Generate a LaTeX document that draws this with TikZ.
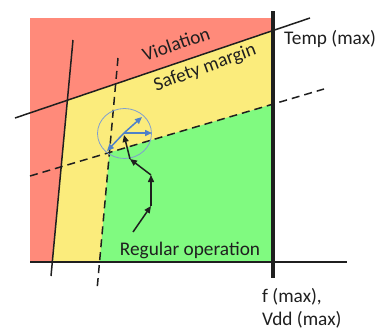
\documentclass[tikz,border=0pt]{standalone}
\usepackage{fontspec}
\setmainfont{Carlito}
\usepackage{tikz}
\usepackage{xcolor}
\usetikzlibrary{arrows.meta,positioning,calc}
\definecolor{viol}{HTML}{FF8A7A}
\definecolor{safe}{HTML}{FBEC7C}
\definecolor{regular}{HTML}{80FA80}
\definecolor{ink}{HTML}{1F1F1F}
\definecolor{knob}{HTML}{4F81C8}
\definecolor{ring}{HTML}{7F9FCF}
\tikzset{
  bound/.style={draw=ink, line width=1.5pt},
  guess/.style={draw=ink, line width=1.5pt, dash pattern=on 8pt off 5pt},
  label/.style={font=\fontsize{19.3}{23}\selectfont, text=ink, inner sep=0pt},
  movearrow/.style={-{Triangle[length=7pt,width=6pt]}, line width=1.5pt, draw=ink},
  tunearrow/.style={-{Triangle[length=7pt,width=6pt]}, line width=1.5pt, draw=knob}
}
\begin{document}
\begin{tikzpicture}[x=1pt,y=-1pt]
        \useasboundingbox (0,0) rectangle (382,327);

        % end points of the limit lines
        \coordinate (vl) at (15,118);   \coordinate (vr) at (310,18);
        \coordinate (ll-t) at (73,40);  \coordinate (ll-b) at (51,276);
        \coordinate (dh-l) at (30,176); \coordinate (dh-r) at (324,89);
        \coordinate (dv-t) at (118,58); \coordinate (dv-b) at (97,290);
        \coordinate (ax-l) at (30,262); \coordinate (ax-r) at (347,262);
        \coordinate (mx-t) at (273,11); \coordinate (mx-b) at (273,278);

        % regions
        \fill[viol] (30,18) rectangle (273,262);
        \fill[safe] (intersection of ll-t--ll-b and vl--vr)
          -- (intersection of vl--vr and mx-t--mx-b)
          -- (273,262)
          -- (intersection of ll-t--ll-b and ax-l--ax-r) -- cycle;
        \fill[regular] (intersection of dv-t--dv-b and dh-l--dh-r)
          -- (intersection of dh-l--dh-r and mx-t--mx-b)
          -- (273,262)
          -- (intersection of dv-t--dv-b and ax-l--ax-r) -- cycle;

        % lines
        \draw[bound] (vl) -- (vr);
        \draw[bound] (ll-t) -- (ll-b);
        \draw[guess] (dh-l) -- (dh-r);
        \draw[guess] (dv-t) -- (dv-b);
        \draw[bound] (ax-l) -- (ax-r);
        \draw[draw=ink, line width=4.5pt] (mx-t) -- (mx-b);

        % operating point
        \coordinate (c) at (124,133);
        \draw[draw=ring, line width=0.8pt] (124.5,133.5) ellipse [x radius=27pt, y radius=25pt];
        \coordinate (t1) at (142,117);
        \coordinate (t2) at (152,133);
        \coordinate (t3) at (107,151);
        \foreach \t in {t1,t2,t3}
          \draw[tunearrow] (c) -- (\t);

        % path of the operating point
        \coordinate (p0) at (133,232);
        \coordinate (p1) at (151,206);
        \coordinate (p2) at (151,175);
        \coordinate (p3) at (130,159);
        \coordinate (p4) at (124,135);
        \foreach \a/\b in {p0/p1,p1/p2,p2/p3,p3/p4}
          \draw[movearrow] (\a) -- (\b);

        % labels
        \node[label, rotate=19] (violation) at (176,44) {Violation};
        \node[label, rotate=20] (safety) at (205,68) {Safety margin};
        \node[label] (regular) at (190,250) {Regular operation};
        \node[label, anchor=west] (tempmax) at (284,39) {Temp (max)};
        \node[label, anchor=west, align=left] (fmax) at (262,308) {f (max),\\Vdd (max)};
      \end{tikzpicture}
\end{document}
